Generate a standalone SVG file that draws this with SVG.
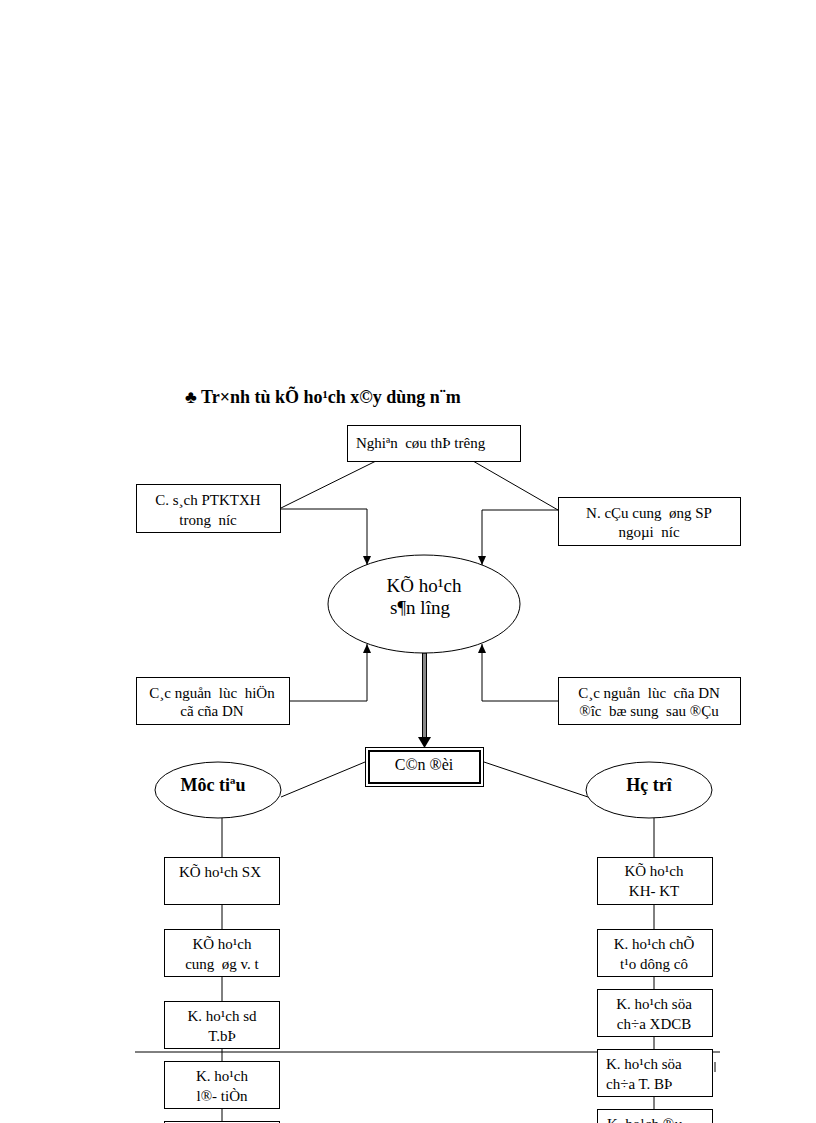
<svg xmlns="http://www.w3.org/2000/svg" width="816" height="1123" viewBox="0 0 816 1123">
<style>
text{font-family:"Liberation Serif","Times New Roman",serif;fill:#000;white-space:pre}
.t{font-size:15px;text-anchor:middle}
.tl{font-size:15px}
.b{font-weight:bold}
.box{fill:#fff;stroke:#000;stroke-width:1}
.ln{fill:none;stroke:#000;stroke-width:1}
</style>
<defs>
<marker id="arr" markerWidth="10" markerHeight="10" refX="9" refY="5" orient="auto" markerUnits="userSpaceOnUse" viewBox="0 0 10 10">
<path d="M0,1 L9,5 L0,9 Z" fill="#000"/>
</marker>
</defs>
<rect width="816" height="1123" fill="#fff"/>

<text id="title" x="185" y="403" class="b" style="font-size:18px">♣ Tr×nh tù kÕ ho¹ch x©y dùng n¨m</text>

<g id="connectors">
<line class="ln" x1="376" y1="461" x2="281" y2="508"/>
<line class="ln" x1="473" y1="461" x2="558" y2="510"/>
<polyline class="ln" points="281,509 367,509 367,565" marker-end="url(#arr)"/>
<polyline class="ln" points="558,510 482,510 482,565" marker-end="url(#arr)"/>
<polyline class="ln" points="290,701 367,701 367,644" marker-end="url(#arr)"/>
<polyline class="ln" points="558,701 482,701 482,644" marker-end="url(#arr)"/>
<rect x="422.5" y="653" width="4" height="85" fill="#888" stroke="#000" stroke-width="1"/>
<path d="M418,737 L431,737 L424.5,748 Z" fill="#000"/>
<line class="ln" x1="365" y1="762" x2="281" y2="797"/>
<line class="ln" x1="484" y1="762" x2="588" y2="797"/>
<line class="ln" x1="222" y1="818" x2="222" y2="1123"/>
<line class="ln" x1="654" y1="818" x2="654" y2="1123"/>
<line class="ln" x1="135" y1="1052" x2="720" y2="1052"/>
<line class="ln" x1="715" y1="1062" x2="715" y2="1072"/>
</g>

<g id="n-nghien">
<rect class="box" x="347.5" y="425.5" width="173" height="36"/>
<text class="tl" x="356" y="448">Nghiªn  cøu thÞ trêng</text>
</g>
<g id="n-csach">
<rect class="box" x="136.5" y="484.5" width="144" height="48"/>
<text class="t" x="208" y="505">C. s¸ch PTKTXH</text>
<text class="t" x="208" y="525">trong  níc</text>
</g>
<g id="n-ncau">
<rect class="box" x="558.5" y="497.5" width="182" height="48"/>
<text class="t" x="649" y="518">N. cÇu cung  øng SP</text>
<text class="t" x="649" y="537">ngoµi  níc</text>
</g>
<g id="n-kehoach">
<ellipse cx="424" cy="604" rx="96" ry="49" fill="#fff" stroke="#000" stroke-width="1"/>
<text class="t" x="424" y="592" style="font-size:19px">KÕ ho¹ch</text>
<text class="t" x="420" y="614" style="font-size:19px">s¶n lîng</text>
</g>
<g id="n-nguonluc1">
<rect class="box" x="136.5" y="677.5" width="153" height="47"/>
<text class="t" x="212" y="698">C¸c nguån  lùc  hiÖn</text>
<text class="t" x="212" y="716">cã cña DN</text>
</g>
<g id="n-nguonluc2">
<rect class="box" x="558.5" y="677.5" width="182" height="47"/>
<text class="t" x="649" y="698">C¸c nguån  lùc  cña DN</text>
<text class="t" x="649" y="716">®îc  bæ sung  sau ®Çu</text>
</g>
<g id="n-candoi">
<rect x="365.5" y="747.5" width="118" height="39" fill="#fff" stroke="#000" stroke-width="1"/>
<rect x="369" y="751" width="111" height="32" fill="none" stroke="#000" stroke-width="2"/>
<text class="t" x="424" y="770" style="font-size:16px">C©n ®èi</text>
</g>
<g id="n-muctieu">
<ellipse cx="218" cy="790" rx="63" ry="28" fill="#fff" stroke="#000" stroke-width="1"/>
<text class="t b" x="213" y="791" style="font-size:18px">Môc tiªu</text>
</g>
<g id="n-hotro">
<ellipse cx="649" cy="790" rx="63" ry="28" fill="#fff" stroke="#000" stroke-width="1"/>
<text class="t b" x="649" y="791" style="font-size:18px">Hç trî</text>
</g>

<g id="n-l1">
<rect class="box" x="164.5" y="857.5" width="115" height="47"/>
<text class="t" x="220" y="877">KÕ ho¹ch SX</text>
</g>
<g id="n-l2">
<rect class="box" x="164.5" y="929.5" width="115" height="47"/>
<text class="t" x="222" y="949">KÕ ho¹ch</text>
<text class="t" x="222" y="969">cung  øg v. t</text>
</g>
<g id="n-l3">
<rect class="box" x="164.5" y="1001.5" width="115" height="47"/>
<text class="t" x="222" y="1021">K. ho¹ch sd</text>
<text class="t" x="222" y="1041">T.bÞ</text>
</g>
<g id="n-l4">
<rect class="box" x="164.5" y="1061.5" width="115" height="47"/>
<text class="t" x="222" y="1081">K. ho¹ch</text>
<text class="t" x="222" y="1101">l®- tiÒn</text>
</g>
<g id="n-l5">
<rect class="box" x="164.5" y="1121.5" width="115" height="30"/>
</g>

<g id="n-r1">
<rect class="box" x="597.5" y="857.5" width="115" height="47"/>
<text class="t" x="654" y="876">KÕ ho¹ch</text>
<text class="t" x="654" y="896">KH- KT</text>
</g>
<g id="n-r2">
<rect class="box" x="597.5" y="929.5" width="115" height="47"/>
<text class="t" x="654" y="949">K. ho¹ch chÕ</text>
<text class="t" x="654" y="969">t¹o dông cô</text>
</g>
<g id="n-r3">
<rect class="box" x="597.5" y="989.5" width="115" height="47"/>
<text class="t" x="654" y="1009">K. ho¹ch söa</text>
<text class="t" x="654" y="1029">ch÷a XDCB</text>
</g>
<g id="n-r4">
<rect class="box" x="597.5" y="1049.5" width="115" height="47"/>
<text class="tl" x="606" y="1069">K. ho¹ch söa</text>
<text class="tl" x="606" y="1089">ch÷a T. BÞ</text>
</g>
<g id="n-r5">
<rect class="box" x="597.5" y="1109.5" width="115" height="30"/>
<text class="tl" x="607" y="1129">K. ho¹ch ®µ</text>
</g>
</svg>
